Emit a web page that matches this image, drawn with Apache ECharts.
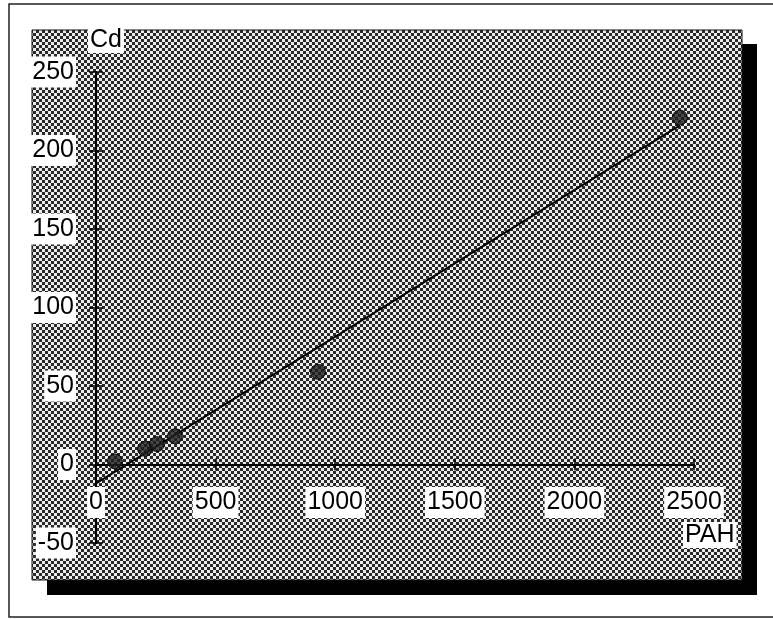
<!DOCTYPE html>
<html>
<head>
<meta charset="utf-8">
<script src="https://cdn.jsdelivr.net/npm/echarts@6/dist/echarts.min.js"></script>
<style>html,body{margin:0;padding:0;background:#fff}#c{width:773px;height:619px}</style>
</head>
<body>
<div id="c"></div>
<script>
// Data
var pahValues = [79, 205, 255, 330, 928, 2441];
var cdValues  = [2, 10, 13, 18, 59, 221];
var fitX = [0, 2441];
var fitY = [-12, 216];
var xTicks = {min: 0, max: 2500, interval: 500};
var yTicks = {min: -50, max: 250, interval: 50};
var xName = 'PAH';
var yName = 'Cd';

// halftone-like pattern
var pc = document.createElement('canvas');
pc.width = 6; pc.height = 6;
var g = pc.getContext('2d');
g.fillStyle = '#ececec'; g.fillRect(0, 0, 6, 6);
g.fillStyle = '#2a2a2a';
g.fillRect(0, 0, 3, 3); g.fillRect(3, 3, 3, 3);

var font = "'Liberation Sans', Arial, Helvetica, sans-serif";
var chart = echarts.init(document.getElementById('c'));
var points = pahValues.map(function (v, i) { return [v, cdValues[i]]; });
var fit = fitX.map(function (v, i) { return [v, fitY[i]]; });
var plain = function (v) { return String(v); };
var labelBox = {color: '#000', fontFamily: font, fontSize: 25, backgroundColor: '#fff', padding: [3, 2, 3, 2], formatter: plain};

chart.setOption({
  backgroundColor: '#fff',
  animation: false,
  grid: {left: 96, right: 79, top: 72, bottom: 76},
  graphic: [
    {type: 'rect', z: -20, shape: {x: 9, y: 4, width: 766, height: 613}, style: {fill: '#fff', stroke: '#222', lineWidth: 1.5}},
    {type: 'rect', z: -15, shape: {x: 47, y: 44, width: 710, height: 551}, style: {fill: '#000'}},
    {type: 'rect', z: -10, shape: {x: 32, y: 30, width: 710, height: 550}, style: {fill: {image: pc, repeat: 'repeat'}, stroke: '#111', lineWidth: 1}},
    {type: 'text', z: 100, left: 88, top: 27, style: {text: yName, fill: '#000', font: "25px " + font, backgroundColor: '#fff', padding: [1, 2, 0, 2]}},
    {type: 'text', z: 100, left: 683, top: 522, style: {text: xName, fill: '#000', font: "25px " + font, backgroundColor: '#fff', padding: [1, 2, 0, 2]}}
  ],
  xAxis: [
    {type: 'value', position: 'bottom', min: xTicks.min, max: xTicks.max, interval: xTicks.interval,
     axisLine: {show: true, onZero: true, lineStyle: {color: '#000', width: 2}},
     axisTick: {show: true, inside: false, length: 6, lineStyle: {color: '#000', width: 1.5}},
     axisLabel: Object.assign({margin: -56}, labelBox),
     splitLine: {show: false}},
    {type: 'value', position: 'top', min: xTicks.min, max: xTicks.max, interval: xTicks.interval,
     axisLine: {show: true, onZero: true, lineStyle: {color: '#000', width: 2}},
     axisTick: {show: true, inside: false, length: 6, lineStyle: {color: '#000', width: 1.5}},
     axisLabel: {show: false}, splitLine: {show: false}}
  ],
  yAxis: [
    {type: 'value', position: 'left', min: yTicks.min, max: yTicks.max, interval: yTicks.interval,
     axisLine: {show: true, onZero: true, lineStyle: {color: '#000', width: 2}},
     axisTick: {show: true, inside: false, length: 7, lineStyle: {color: '#000', width: 1.5}},
     axisLabel: Object.assign({margin: 20}, labelBox),
     splitLine: {show: false}},
    {type: 'value', position: 'right', min: yTicks.min, max: yTicks.max, interval: yTicks.interval,
     axisLine: {show: true, onZero: true, lineStyle: {color: '#000', width: 2}},
     axisTick: {show: true, inside: false, length: 7, lineStyle: {color: '#000', width: 1.5}},
     axisLabel: {show: false}, splitLine: {show: false}}
  ],
  series: [
    {type: 'line', data: fit, symbol: 'none', lineStyle: {color: '#000', width: 2}, z: 3},
    {type: 'scatter', data: points, symbol: 'circle', symbolSize: 15,
     itemStyle: {color: '#1e1e1e', borderColor: '#000', borderWidth: 1}, z: 4}
  ]
});
</script>
</body>
</html>
